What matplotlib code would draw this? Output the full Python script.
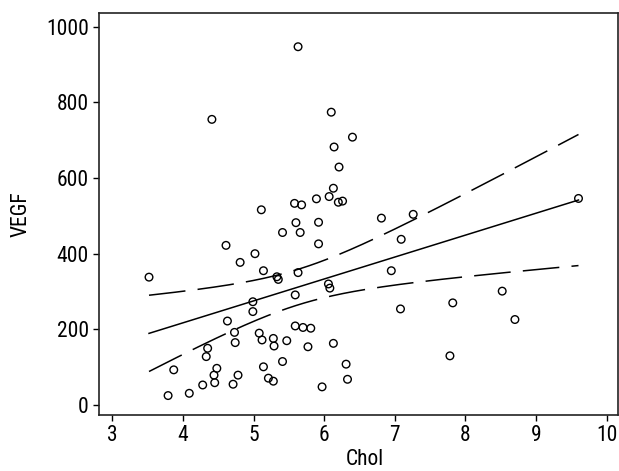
import matplotlib
matplotlib.use("Agg")
import matplotlib.pyplot as plt
import numpy as np

plt.rcParams['font.family'] = ['Roboto Condensed', 'DejaVu Sans']

# Chol / VEGF values
chol = [3.52, 4.61, 5.02, 4.81, 5.14, 5.33, 5.35, 5.63, 5.41, 5.66,
        5.60, 5.92, 5.92, 6.06, 6.08, 5.59, 4.99, 4.99, 4.63, 4.73,
        4.74, 5.08, 5.12, 5.28, 5.29, 5.47, 5.59, 5.70, 5.81, 5.77,
        6.13, 4.35, 4.33, 3.87, 4.48, 4.44, 4.45, 4.28, 4.09, 3.79,
        4.78, 4.71, 5.14, 5.41, 5.21, 5.28, 5.97, 6.31, 6.33, 5.63,
        4.41, 6.10, 6.40, 6.14, 6.21, 6.13, 6.07, 6.20, 6.26, 5.89,
        5.58, 5.68, 5.11, 6.81, 7.26, 7.09, 6.95, 7.08, 7.82, 8.52,
        8.70, 7.78, 9.60]
vegf = [338, 422, 400, 377, 355, 339, 332, 350, 456, 456,
        482, 483, 426, 320, 309, 291, 273, 247, 222, 192,
        165, 190, 172, 176, 156, 170, 209, 205, 203, 154,
        163, 150, 128, 93, 97, 79, 59, 53, 31, 25,
        79, 55, 101, 115, 71, 63, 48, 108, 68, 947,
        755, 774, 708, 682, 629, 573, 551, 536, 539, 545,
        533, 529, 516, 494, 504, 438, 355, 254, 270, 301,
        226, 130, 546]

x = np.array(chol)
y = np.array(vegf)
n = len(x)

# linear fit + 95% confidence band of the mean
b, a = np.polyfit(x, y, 1)
xs = np.linspace(x.min(), x.max(), 200)
fit = a + b * xs
resid = y - (a + b * x)
s = np.sqrt(np.sum(resid ** 2) / (n - 2))
se = s * np.sqrt(1.0 / n + (xs - x.mean()) ** 2 / np.sum((x - x.mean()) ** 2))
t = 1.994
upper = fit + t * se
lower = fit - t * se

fig = plt.figure(figsize=(6.19, 4.71), dpi=100)
ax = fig.add_axes([0.1604, 0.1195, 0.8375, 0.8523])

ax.scatter(x, y, s=30, facecolors='none', edgecolors='black', linewidths=1.0, zorder=3)
ax.plot(xs, fit, color='black', lw=1.1)
ax.plot(xs, upper, color='black', lw=1.1, dashes=(24, 8))
ax.plot(xs, lower, color='black', lw=1.1, dashes=(24, 8))

ax.set_xlim(2.816, 10.155)
ax.set_ylim(-25.6, 1035.4)
ax.set_xticks(range(3, 11))
ax.set_yticks(range(0, 1001, 200))
ax.tick_params(labelsize=15.5, length=4.5, width=1.0, pad=3)
for sp in ax.spines.values():
    sp.set_linewidth(1.2)
    sp.set_color('#222222')

ax.set_xlabel('Chol', fontsize=15.5)
ax.set_ylabel('VEGF', fontsize=15.5)
ax.xaxis.set_label_coords(0.512, -0.085)
ax.yaxis.set_label_coords(-0.13, 0.5)

fig.savefig('out.png', dpi=100)
